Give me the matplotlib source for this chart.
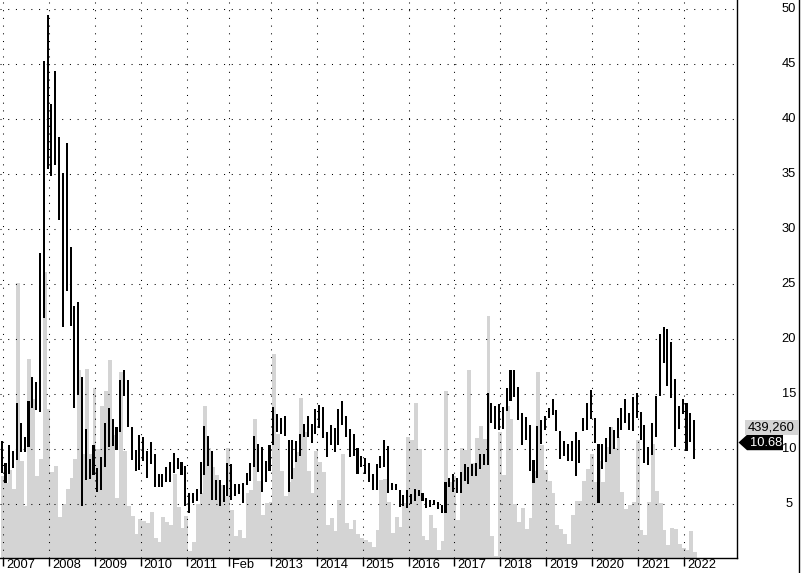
import matplotlib
matplotlib.use("Agg")
import matplotlib.pyplot as plt
import matplotlib.transforms as mtransforms
from matplotlib.patches import Polygon, Rectangle
from matplotlib.lines import Line2D
import numpy as np

plt.rcParams['font.family'] = ['Liberation Sans', 'DejaVu Sans']
plt.rcParams['lines.scale_dashes'] = False

# ---- data: monthly bars, Jan 2007 .. Mar 2022 ----
high = [10.76, 8.73, 10.4, 9.8, 14.2, 12.4, 11.1, 14.4, 16.5, 16.1,
        27.8, 45.3, 49.5, 41.4, 44.4, 38.4, 35.1, 37.8, 28.4, 23.0,
        23.4, 16.5, 11.8, 9.1, 10.4, 8.3, 9.3, 12.4, 13.7, 12.7,
        12.0, 16.3, 17.2, 16.3, 12.0, 9.9, 11.3, 11.1, 9.8, 10.6,
        9.5, 7.7, 7.7, 8.4, 8.8, 9.6, 9.2, 8.8, 8.45, 6.0,
        6.0, 6.4, 8.8, 12.1, 11.2, 9.85, 7.2, 7.2, 6.7, 8.75,
        8.6, 6.8, 6.8, 6.9, 7.8, 8.7, 11.2, 10.45, 10.15, 8.9,
        10.4, 13.85, 13.15, 12.85, 13.0, 10.8, 10.8, 10.7, 11.4, 12.3,
        13.0, 12.3, 13.6, 14.0, 13.8, 11.5, 12.2, 11.9, 13.6, 14.4,
        13.0, 11.8, 11.4, 10.1, 9.4, 9.2, 8.7, 7.7, 8.6, 9.4,
        10.8, 10.3, 6.9, 6.8, 6.3, 5.8, 6.3, 5.9, 6.4, 6.3,
        6.0, 5.5, 5.4, 5.4, 5.15, 4.9, 7.0, 7.4, 7.7, 7.4,
        7.9, 8.6, 8.4, 8.6, 8.7, 9.5, 9.5, 15.1, 14.2, 13.9,
        14.1, 13.8, 15.5, 17.2, 17.2, 15.6, 13.3, 12.9, 12.2, 9.0,
        12.1, 12.6, 13.0, 13.75, 14.5, 13.5, 11.6, 10.75, 10.45, 10.75,
        11.5, 10.8, 12.8, 14.15, 15.4, 12.85, 10.45, 10.45, 11.0, 12.0,
        11.7, 12.85, 13.75, 14.5, 13.3, 14.75, 15.05, 13.4, 12.2, 10.2,
        12.4, 14.8, 20.45, 21.1, 20.9, 19.7, 16.4, 13.9, 14.5, 14.2,
        13.3, 12.6]

low = [7.82, 6.9, 7.7, 8.24, 9.0, 9.7, 9.7, 10.2, 13.7, 13.5,
       13.4, 21.9, 35.5, 34.8, 35.8, 30.8, 21.1, 24.4, 21.2, 13.7,
       14.9, 4.85, 7.15, 7.3, 7.6, 6.1, 6.3, 8.4, 10.2, 10.3,
       9.9, 11.5, 14.8, 12.0, 9.0, 8.0, 8.1, 8.9, 7.4, 8.6,
       6.5, 6.5, 6.5, 7.0, 7.0, 7.8, 8.15, 7.6, 4.8, 4.15,
       5.1, 5.3, 5.9, 7.6, 8.45, 5.4, 5.4, 4.85, 5.2, 5.7,
       5.4, 5.7, 5.9, 5.1, 6.7, 7.1, 8.4, 7.9, 6.1, 7.0,
       8.0, 10.4, 11.5, 11.4, 11.2, 6.1, 7.3, 8.85, 9.4, 11.1,
       11.1, 10.5, 11.4, 11.9, 11.0, 9.3, 10.4, 9.7, 10.4, 12.2,
       11.1, 9.3, 9.4, 7.7, 8.4, 7.7, 7.0, 6.3, 6.3, 8.3,
       8.4, 6.0, 6.3, 6.3, 4.75, 4.85, 4.6, 5.0, 5.3, 5.7,
       5.3, 4.6, 4.75, 4.9, 4.55, 4.15, 4.15, 6.5, 6.1, 6.0,
       6.0, 7.1, 6.8, 7.5, 7.5, 8.15, 8.5, 8.5, 12.4, 11.8,
       11.7, 11.8, 13.45, 14.4, 14.75, 12.6, 10.4, 10.8, 8.0, 6.9,
       7.4, 10.45, 11.7, 12.8, 13.1, 11.6, 9.1, 9.4, 8.9, 8.9,
       7.5, 8.7, 11.6, 11.7, 12.7, 10.5, 5.1, 8.15, 8.85, 9.5,
       10.0, 11.0, 11.7, 12.4, 11.7, 11.6, 12.8, 10.8, 8.75, 8.5,
       9.45, 11.1, 14.8, 17.85, 15.7, 14.6, 10.2, 11.8, 13.15, 9.8,
       10.6, 9.05]

volume_m = [7.5, 6.9, 8.1, 6.4, 25.1, 8.9, 4.8, 18.2, 14.5, 7.5,
            9.1, 26.1, 13.6, 7.9, 8.45, 3.85, 5.0, 6.4, 7.4, 9.1,
            17.2, 9.5, 17.3, 9.5, 15.5, 10.0, 13.9, 15.3, 18.1, 11.3,
            5.5, 17.0, 9.8, 4.85, 3.9, 2.3, 3.6, 3.45, 3.3, 4.3,
            1.9, 1.5, 3.8, 3.4, 3.1, 7.7, 4.7, 2.8, 3.9, 0.75,
            1.55, 5.0, 6.0, 13.9, 10.1, 8.4, 7.6, 6.7, 5.7, 10.1,
            4.45, 2.1, 2.6, 1.9, 6.0, 6.3, 12.7, 7.1, 4.0, 5.1,
            5.15, 18.6, 11.4, 8.0, 5.7, 7.0, 8.3, 9.7, 14.6, 11.5,
            8.0, 6.0, 9.8, 8.8, 7.9, 3.1, 3.75, 2.5, 5.4, 9.5,
            3.3, 2.7, 3.5, 2.3, 1.9, 1.7, 1.5, 1.1, 2.6, 7.2,
            7.3, 5.2, 2.4, 3.8, 2.9, 5.1, 11.1, 10.8, 14.2, 10.0,
            2.1, 1.7, 4.0, 2.8, 0.8, 1.6, 15.3, 7.0, 7.5, 3.5,
            10.1, 9.9, 17.2, 8.7, 11.0, 12.1, 10.9, 22.1, 2.1, 0.3,
            11.5, 7.6, 13.9, 12.7, 5.0, 3.4, 4.6, 2.7, 3.7, 8.0,
            17.0, 10.4, 8.1, 7.1, 6.0, 3.1, 2.7, 2.3, 1.4, 4.0,
            5.3, 5.3, 7.1, 8.2, 9.5, 7.0, 8.9, 7.0, 10.2, 12.0,
            10.1, 11.1, 6.1, 4.5, 4.9, 5.2, 10.8, 2.6, 2.2, 5.2,
            10.45, 6.2, 5.1, 2.6, 1.3, 2.85, 2.7, 1.4, 1.0, 0.8,
            2.5, 0.6]

year_labels = ["2007", "2008", "2009", "2010", "2011", "Feb", "2013", "2014",
               "2015", "2016", "2017", "2018", "2019", "2020", "2021", "2022"]
year_start = [0, 12, 24, 36, 48, 59, 70, 82, 94, 106, 118, 130, 142, 154, 166, 178]
y_ticks = [5, 10, 15, 20, 25, 30, 35, 40, 45, 50]
last_close = 10.68
last_volume_label = "439,260"

# ---- figure ----
W, H = 802, 573
fig = plt.figure(figsize=(W / 100, H / 100), dpi=100)
fig.patch.set_facecolor('white')
ax = fig.add_axes([0, 15 / H, 737 / W, 558 / H])
ax.set_facecolor('white')

x = np.arange(len(high))
hi = np.array(high)
lo = np.array(low)
ax.set_xlim(-0.444, 192.2)
ax.set_ylim(0.09, 50.82)

# volume histogram (background), drawn as one filled step outline
edges = np.arange(len(volume_m) + 1) - 0.26
ax.stairs(volume_m, edges, fill=True, color='#d4d4d4', linewidth=0,
          baseline=0, zorder=1)

# dotted grid
dot = (0, (0.75, 4.8))
for v in y_ticks:
    ax.axhline(v, color='black', lw=0.75, ls=dot, zorder=2)
grid_pos = [p + 0.35 for p in year_start]
for p in grid_pos:
    ax.axvline(p, color='black', lw=0.75, ls=dot, zorder=2)

# high-low price bars (about 2 px wide)
ax.bar(x, hi - lo, bottom=lo, width=0.54, color='black', linewidth=0,
       antialiased=False, zorder=3)

# spines / ticks
for s in ['left', 'top']:
    ax.spines[s].set_visible(False)
for s in ['right', 'bottom']:
    ax.spines[s].set_color('black')
    ax.spines[s].set_linewidth(1.0)
ax.set_yticks([])
ax.set_xticks(grid_pos)
ax.tick_params(axis='x', direction='out', length=6, width=1.0, color='black',
               labelbottom=False)

bx = mtransforms.blended_transform_factory(ax.transData, ax.transAxes)
for p, lab in zip(grid_pos, year_labels):
    ax.annotate(lab, xy=(p, 0), xycoords=bx, xytext=(3, -7),
                textcoords='offset pixels', ha='left', va='center',
                fontsize=9.3, color='black', annotation_clip=False)

by = mtransforms.blended_transform_factory(ax.transAxes, ax.transData)
for v in y_ticks:
    ax.annotate(str(v), xy=(1, v), xycoords=by, xytext=(52, 0),
                textcoords='offset pixels', ha='center', va='center',
                fontsize=9.3, color='black', annotation_clip=False)

# outer right border line
fig.add_artist(Line2D([798.5 / W, 798.5 / W], [0, 1], transform=fig.transFigure,
                      color='black', lw=1.0))

# last value labels (display pixel coordinates)
fig.canvas.draw()
X0, Y0 = by.transform((1, last_close))
ident = mtransforms.IdentityTransform()
cy = Y0 - 1
poly = Polygon([(X0 + 1.5, cy), (X0 + 10, cy + 7.7), (X0 + 46, cy + 7.7),
                (X0 + 46, cy - 7.7), (X0 + 10, cy - 7.7)], closed=True,
               facecolor='black', edgecolor='none', transform=ident, zorder=10)
fig.add_artist(poly)
fig.text(X0 + 29, cy, f"{last_close:.2f}", transform=ident, ha='center',
         va='center', fontsize=9.3, color='white', zorder=11)
rect = Rectangle((X0 + 8, Y0 + 6.5), 53, 15, facecolor='#d4d4d4',
                 edgecolor='none', transform=ident, zorder=10)
fig.add_artist(rect)
fig.text(X0 + 34.5, Y0 + 14, last_volume_label, transform=ident, ha='center',
         va='center', fontsize=9.3, color='black', zorder=11)

fig.savefig("out.png", dpi=100, facecolor='white')
